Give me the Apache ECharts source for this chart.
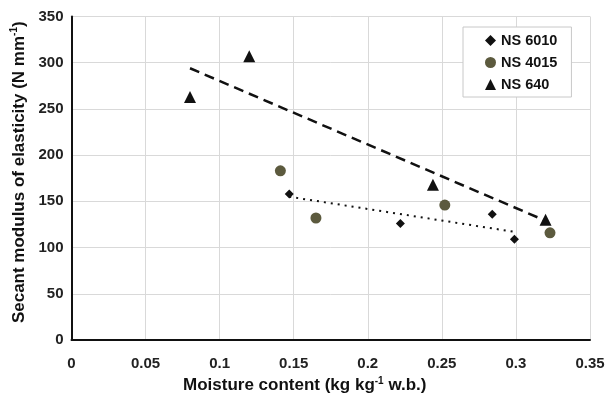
<!DOCTYPE html>
<html>
<head>
<meta charset="utf-8">
<script src="https://cdn.jsdelivr.net/npm/echarts@6/dist/echarts.min.js"></script>
<style>
  html, body { margin: 0; padding: 0; background: #fff; }
  #chart { width: 606px; height: 398px; }
</style>
</head>
<body>
<div id="chart"></div>
<script>
// values: [moisture, modulus]
const ns6010 = [[0.147, 158], [0.222, 126], [0.284, 136], [0.299, 109]]
const ns4015 = [[0.141, 183], [0.165, 132], [0.252, 146], [0.323, 116]]
const ns640 = [[0.08, 263], [0.12, 307], [0.244, 168], [0.32, 130]]

// trend line end points
const trend6010 = [[0.147, 155], [0.299, 117]]
const trend640 = [[0.08, 294], [0.32, 129]]

const seriesNames = ['NS 6010', 'NS 4015', 'NS 640']

const font = 'Liberation Sans, Arial, sans-serif'
const supStyle = { fontFamily: font, fontWeight: 'bold', fontSize: 10, color: '#111', verticalAlign: 'top', padding: [0, 0, 9, 0] }
const chart = echarts.init(document.getElementById('chart'))

chart.setOption({
  animation: false,
  backgroundColor: '#fff',
  grid: { left: 71.5, right: 16, top: 16.5, bottom: 58, outerBoundsMode: 'none' },
  legend: {
    data: seriesNames,
    orient: 'vertical',
    left: 463,
    top: 27,
    padding: [6, 14, 5, 22],
    itemGap: 7,
    itemWidth: 11,
    itemHeight: 11,
    backgroundColor: '#fff',
    borderColor: '#c8c8c8',
    borderWidth: 1,
    textStyle: { fontFamily: font, fontWeight: 'bold', fontSize: 14.5, color: '#111', lineHeight: 14 },
  },
  xAxis: {
    type: 'value',
    min: 0,
    max: 0.35,
    interval: 0.05,
    name: 'Moisture content (kg kg{sup|-1} w.b.)',
    nameLocation: 'middle',
    nameGap: 36,
    nameTextStyle: {
      fontFamily: font, fontWeight: 'bold', fontSize: 17, color: '#111',
      padding: [0, 52, 0, 0],
      rich: { sup: supStyle },
    },
    axisLine: { lineStyle: { color: '#111', width: 2 } },
    axisTick: { show: false },
    axisLabel: { fontFamily: font, fontWeight: 'bold', fontSize: 15, color: '#222', margin: 16 },
    splitLine: { lineStyle: { color: '#d9d9d9', width: 1 } },
  },
  yAxis: {
    type: 'value',
    min: 0,
    max: 350,
    interval: 50,
    name: 'Secant modulus of elasticity (N mm{sup|-1})',
    nameLocation: 'middle',
    nameGap: 43,
    nameTextStyle: {
      fontFamily: font, fontWeight: 'bold', fontSize: 17, color: '#111',
      padding: [0, 0, 0, 12],
      rich: { sup: supStyle },
    },
    axisLine: { show: true, lineStyle: { color: '#111', width: 2 } },
    axisTick: { show: false },
    axisLabel: { fontFamily: font, fontWeight: 'bold', fontSize: 15, color: '#222', margin: 8 },
    splitLine: { lineStyle: { color: '#d9d9d9', width: 1 } },
  },
  series: [
    {
      name: 'NS 6010 trend',
      type: 'line',
      data: trend6010,
      symbol: 'none',
      lineStyle: { color: '#111', width: 2, type: [2, 5] },
      z: 2,
    },
    {
      name: 'NS 640 trend',
      type: 'line',
      data: trend640,
      symbol: 'none',
      lineStyle: { color: '#111', width: 2.5, type: [10, 6] },
      z: 2,
    },
    {
      name: seriesNames[0],
      type: 'scatter',
      data: ns6010,
      symbol: 'diamond',
      symbolSize: 9,
      itemStyle: { color: '#111', opacity: 1 },
      z: 3,
    },
    {
      name: seriesNames[1],
      type: 'scatter',
      data: ns4015,
      symbol: 'circle',
      symbolSize: 11,
      itemStyle: { color: '#5c5a3e', opacity: 1 },
      z: 3,
    },
    {
      name: seriesNames[2],
      type: 'scatter',
      data: ns640,
      symbol: 'triangle',
      symbolSize: 12,
      itemStyle: { color: '#111', opacity: 1 },
      z: 3,
    },
  ],
})
</script>
</body>
</html>
